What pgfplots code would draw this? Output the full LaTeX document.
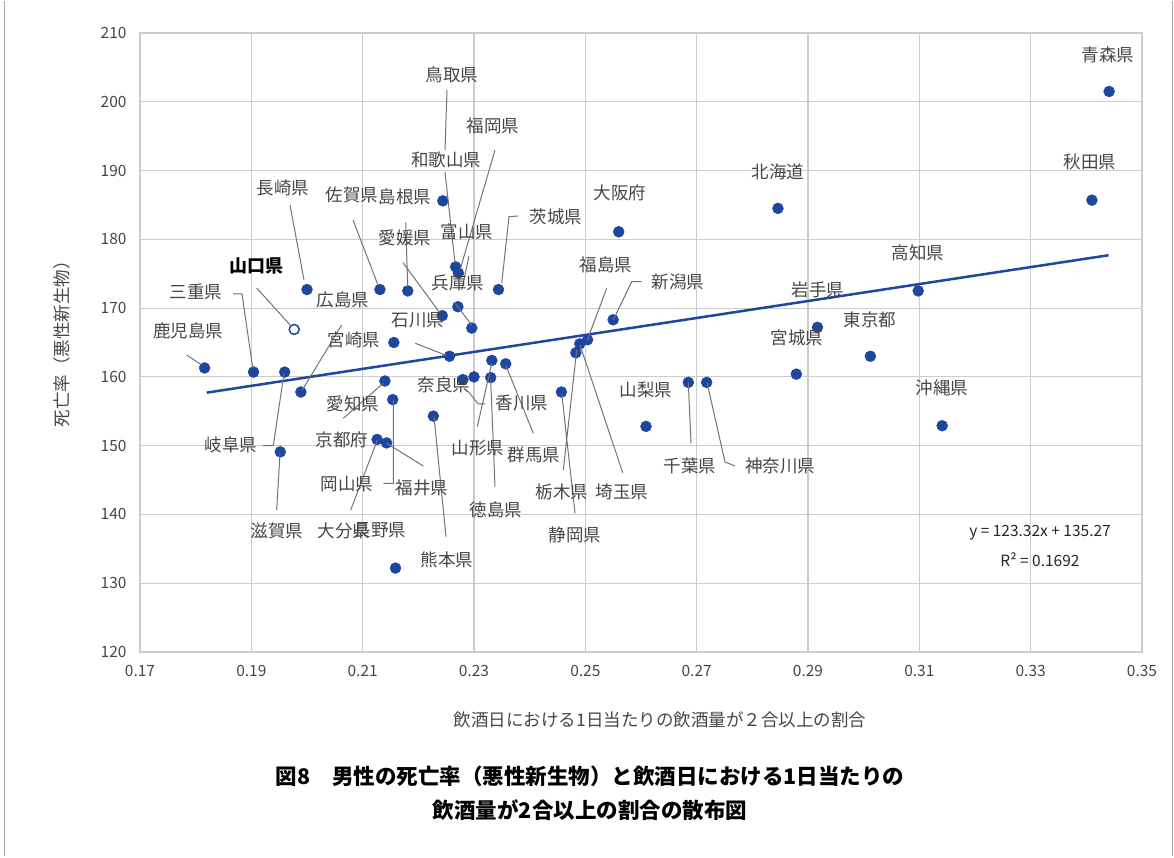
\documentclass[border=0pt]{standalone}
\usepackage{fontspec}
\setmainfont{Noto Sans CJK JP}
\usepackage{pgfplots}
\pgfplotsset{compat=1.18}
\definecolor{dot}{RGB}{30,70,160}
\definecolor{lab}{RGB}{70,70,70}
\begin{document}
\begin{tikzpicture}[x=1pt,y=1pt]
\useasboundingbox (0,0) rectangle (1174,857);
\draw[gray!70,line width=1pt] (4,1) -- (4,856) (1172,856)--(1172,1);
\begin{axis}[at={(140pt,205pt)},anchor=south west,width=1002pt,height=619pt,scale only axis,
 xmin=0.17,xmax=0.35,ymin=120,ymax=210,
 xtick={0.17,0.19,...,0.35},ytick={120,130,...,210},
 grid=major,grid style={gray!40,line width=1.2pt},axis line style={gray!40,line width=1.2pt},
 tick style={draw=none},
 ticklabel style={font=\fontsize{15.5}{18}\selectfont,text=lab},
 /pgf/number format/assume math mode=true,
 xticklabel style={yshift=-10pt,/pgf/number format/.cd,fixed,precision=2,fixed zerofill},
 yticklabel style={xshift=-10pt},
 ]
\addplot[only marks,mark=*,mark size=5.5pt,dot] coordinates {
(0.3441,201.5)(0.3410,185.7)(0.2846,184.5)(0.3098,172.5)(0.2917,167.2)(0.3012,163.0)
(0.2879,160.4)(0.3141,152.9)(0.2685,159.2)(0.2718,159.2)
(0.2244,185.6)(0.2560,181.1)(0.2267,176.0)(0.2272,175.1)(0.2000,172.7)(0.2131,172.7)
(0.2181,172.5)(0.2344,172.7)(0.2271,170.2)(0.2243,168.9)(0.2296,167.1)(0.2550,168.3)
(0.2156,165.0)(0.2256,163.0)(0.2332,162.4)(0.2357,161.9)(0.2504,165.4)(0.2490,164.8)
(0.2483,163.5)(0.1816,161.3)(0.1904,160.7)(0.1960,160.7)(0.1989,157.8)(0.2300,160.0)
(0.2280,159.6)(0.2330,159.9)(0.2140,159.4)(0.2154,156.7)(0.2457,157.8)(0.2609,152.8)
(0.2227,154.3)(0.2126,150.9)(0.2143,150.4)(0.1952,149.1)(0.2159,132.2)};
\addplot[only marks,mark=o,mark size=5pt,line width=1.5pt,dot] coordinates {(0.1977,166.9)};
\addplot[dot,line width=2.5pt] coordinates {(0.182,157.71)(0.344,177.69)};
\end{axis}
\begin{scope}[yshift=857pt,yscale=-1]
\draw[gray!90!black,line width=1pt]
(290,205)--(304,280) (353,220)--(378,285) (405.7,222.7)--(407.7,286.7) (403,262.7)--(440,313)
(445,172)--(455,263) (495,150)--(460,270) (447,90)--(445,150) (469,256)--(461.7,290)
(455,303)--(471.7,325) (518,216)--(509,216.7)--(501.7,283.3) (256.7,288)--(291.7,326.7)
(233,294)--(242,294)--(252.7,368) (186.7,355)--(201.7,365) (341.7,325)--(302.3,390)
(415.3,343.3)--(446,355.3) (262.7,445.7)--(273.3,445.7)--(284,373.3) (276.7,510)--(280,453.3)
(343.3,418.3)--(383.3,383.3) (386.7,443.3)--(423.3,466) (383.3,483.3)--(393.3,483.3)--(393.3,400.7)
(350.7,510)--(377.3,440) (446,536.7)--(434,416.7) (468.3,391.7)--(478.3,404)--(485,404)
(477.3,426.7)--(491.7,363.3) (495,486.7)--(490.7,380) (533.3,433.3)--(505.7,365)
(563.3,470)--(576.7,350) (575,513.3)--(561.7,393.3) (622.7,472.7)--(580,345)
(606.7,288.3)--(587.3,340) (641.7,281.7)--(631.7,281.7)--(613.3,320)
(688.3,382.3)--(691,443.3) (707,382.3)--(725,462)--(735,466);
\begin{scope}[every node/.style={text=lab,font=\fontsize{17.5}{20}\selectfont,inner sep=0pt}]
\node at (1108,55){青森県}; \node at (1090,162){秋田県}; \node at (778,172){北海道};
\node at (918,253){高知県}; \node at (818,290){岩手県}; \node at (870,320){東京都};
\node at (797,338){宮城県}; \node at (942,388){沖縄県}; \node at (690,466){千葉県};
\node at (780,466){神奈川県}; \node at (646,390){山梨県}; \node at (620,193){大阪府};
\node at (678,282){新潟県}; \node at (606,265){福島県}; \node at (562,492){栃木県};
\node at (622,492){埼玉県}; \node at (575,535){静岡県}; \node at (534,455){群馬県};
\node at (522,403){香川県}; \node at (478,448){山形県}; \node at (496,510){徳島県};
\node at (444,385){奈良県}; \node at (447,560){熊本県}; \node at (380,530){長野県};
\node at (344,531){大分県}; \node at (422,488){福井県}; \node at (347,484){岡山県};
\node at (342,440){京都府}; \node at (353,404){愛知県}; \node at (354,340){宮崎県};
\node at (418,320){石川県}; \node at (343,300){広島県}; \node at (458,283){兵庫県};
\node at (467,232){富山県}; \node at (405,238){愛媛県}; \node at (405,197){島根県};
\node at (352,195){佐賀県}; \node at (283,188){長崎県}; \node at (446,160){和歌山県};
\node at (493,126){福岡県}; \node at (452,75){鳥取県}; \node at (556,217){茨城県};
\node[text=black,font=\fontsize{18}{20}\selectfont\bfseries] at (256,266){山口県};
\node at (196,292){三重県}; \node at (188,331){鹿児島県}; \node at (231,445){岐阜県};
\node at (277,531){滋賀県};
\node[font=\fontsize{15.5}{18}\selectfont,text=black!85] at (1040,533){y = 123.32x + 135.27};
\node[font=\fontsize{15.5}{18}\selectfont,text=black!85] at (1040,560){R² = 0.1692};
\node at (660,720){飲酒日における1日当たりの飲酒量が２合以上の割合};
\node[rotate=90] at (62,340){死亡率（悪性新生物）};
\node[text=black,font=\fontsize{21.5}{24}\selectfont\bfseries] at (590,776){図8　男性の死亡率（悪性新生物）と飲酒日における1日当たりの};
\node[text=black,font=\fontsize{21.5}{24}\selectfont\bfseries] at (590,810){飲酒量が2合以上の割合の散布図};
\end{scope}
\end{scope}
\end{tikzpicture}
\end{document}
